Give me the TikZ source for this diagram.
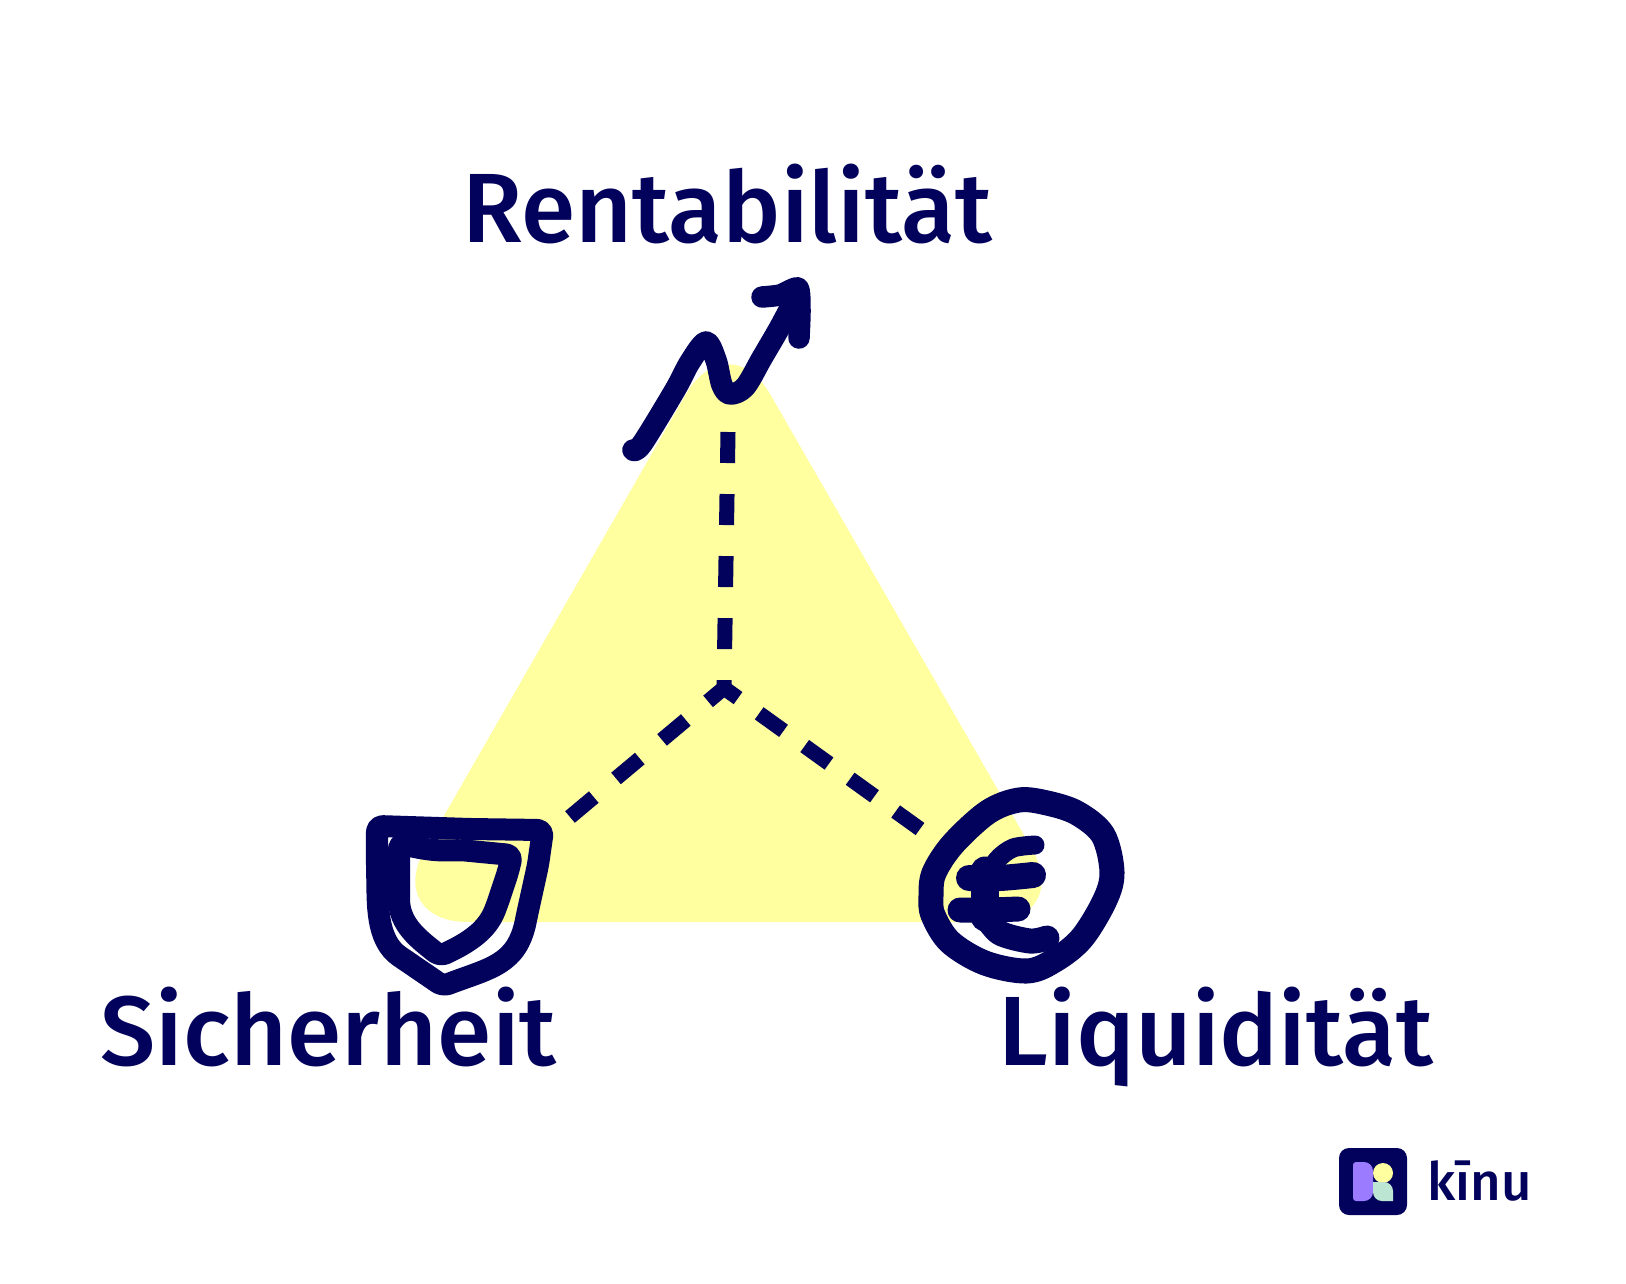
\documentclass[tikz,border=0pt]{standalone}
\usepackage{fontspec}
\setmainfont{Fira Sans Medium}
\definecolor{kinunavy}{HTML}{02025C}
\definecolor{kinuyellow}{HTML}{FFFFA0}
\definecolor{kinupurple}{HTML}{9B7BFF}
\definecolor{kinumint}{HTML}{BDE5D3}
\tikzset{
    sketch/.style={draw=kinunavy,line cap=round,line join=round},
    spoke/.style={draw=kinunavy,line width=0.15cm},
    bigword/.style={anchor=base west,inner sep=0pt,text=kinunavy,font=\fontsize{28}{32}\selectfont},
}
\begin{document}
\begin{tikzpicture}[x=0.01cm,y=-0.01cm]
    \useasboundingbox (0,0) rectangle (1626,1284);

    \fill[kinuyellow,rounded corners=0.85cm] (728,321) -- (1074,922) -- (383,922) -- cycle;

    \coordinate (hub) at (724,688);
    \coordinate (topend) at (728,432);
    \coordinate (leftend) at (570,817);
    \coordinate (rightend) at (920,829);

    \draw[spoke,dash pattern=on 0.31cm off 0.31cm] (topend) -- (hub);
    \draw[spoke,dash pattern=on 0.31cm off 0.29cm] (leftend) -- (hub);
    \draw[spoke,dash pattern=on 0.30cm off 0.26cm] (rightend) -- (hub);

    % arrow
    \draw[sketch,line width=0.215cm] plot[smooth,tension=0.55] coordinates {(633,450) (642,444) (675,390) (690,362) (706,342) (716,360) (722,385) (730,394) (745,387) (762,358) (780,327) (798,293)};
    \draw[sketch,line width=0.215cm] plot[smooth,tension=0.4] coordinates {(762,297) (780,295) (798,288) (800,310) (799,338)};

    % shield
    \draw[sketch,line width=0.22cm,rounded corners=0.06cm] (377,826) -- (470,829) -- (543,830) -- (538,865) -- (527,915) .. controls (517,965) and (490,968) .. (443,986) -- (405,960) .. controls (375,940) and (378,900) .. (377,870) -- cycle;
    \draw[sketch,line width=0.22cm,rounded corners=0.06cm] (399,843) .. controls (425,850) and (440,851) .. (460,850) -- (512,855) -- (508,872) -- (497,905) .. controls (487,930) and (470,942) .. (440,956) .. controls (420,940) and (399,925) .. (399,893) -- cycle;

    % euro
    \draw[sketch,line width=0.25cm] plot[smooth cycle,tension=0.55] coordinates {(1019,800) (1047,803) (1077,813) (1103,835) (1112,872) (1105,900) (1082,938) (1055,960) (1027,971) (985,963) (950,942) (933,915) (931,896) (934,873) (953,844) (988,812)};
    \draw[sketch,line width=0.19cm] plot[smooth,tension=0.5] coordinates {(1035,845) (1013,848) (997,860) (986,880)};
    \draw[sketch,line width=0.27cm] (985,870) -- (985,918);
    \draw[sketch,line width=0.25cm] plot[smooth,tension=0.5] coordinates {(985,915) (1000,933) (1030,941) (1047,938)};
    \draw[sketch,line width=0.26cm] plot[smooth,tension=0.5] coordinates {(969,878) (1000,878) (1033,875)};
    \draw[sketch,line width=0.25cm] plot[smooth,tension=0.5] coordinates {(960,910) (990,910) (1018,909)};

    \node[bigword] (rent) at (462,242) {Rentabilität};
    \node[bigword] (sicher) at (100,1065) {Sicherheit};
    \node[bigword] (liquid) at (998,1065) {Liquidität};

    % logo
    \fill[kinunavy,rounded corners=0.1cm] (1339,1148) rectangle (1407,1215);
    \fill[kinuyellow] (1383,1173) circle (10);
    \fill[kinupurple,rounded corners=0.09cm] (1353,1201) -- (1373,1201) -- (1373,1162) [rounded corners=0.03cm] -- (1353,1162) -- cycle;
    \fill[kinumint] (1373,1182) [rounded corners=0.09cm] -- (1393,1182) [sharp corners] -- (1393,1201) [rounded corners=0.09cm] -- (1373,1201) [sharp corners] -- cycle;
    \node[anchor=base west,inner sep=0pt,text=kinunavy,font=\fontsize{15}{18}\selectfont] (kinu) at (1427,1200) {kīnu};
\end{tikzpicture}
\end{document}
